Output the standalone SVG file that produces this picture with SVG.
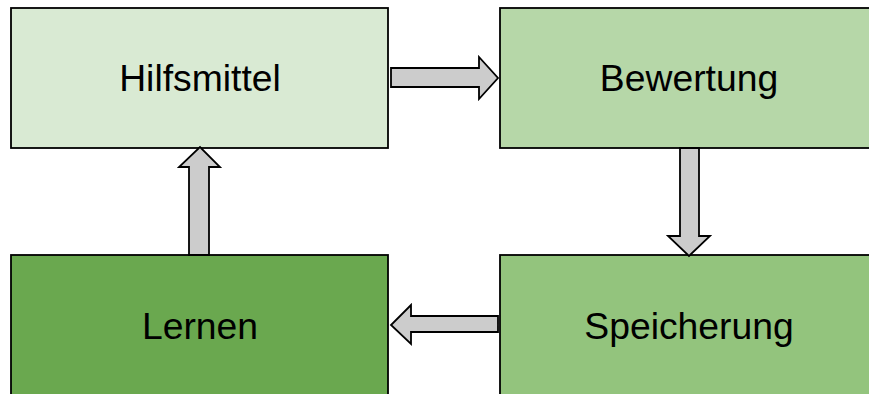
<svg xmlns="http://www.w3.org/2000/svg" width="869" height="394" viewBox="0 0 869 394">
  <style>
    .box { stroke: #000; stroke-width: 1.8; }
    .label { font-family: "Liberation Sans", Arial, sans-serif; font-size: 37.3px; fill: #000; text-anchor: middle; dominant-baseline: central; }
    .arrow { fill: #cccccc; stroke: #000; stroke-width: 1.8; stroke-linejoin: miter; }
  </style>
  <rect width="869" height="394" fill="#ffffff"/>

  <g id="hilfsmittel">
    <rect class="box" x="11" y="8" width="377" height="140" fill="#d9ead3"/>
    <text class="label" x="200" y="78">Hilfsmittel</text>
  </g>
  <g id="bewertung">
    <rect class="box" x="500" y="8" width="378" height="140" fill="#b6d7a8"/>
    <text class="label" x="689" y="78">Bewertung</text>
  </g>
  <g id="speicherung">
    <rect class="box" x="500" y="255" width="378" height="145" fill="#93c47d"/>
    <text class="label" x="689" y="326">Speicherung</text>
  </g>
  <g id="lernen">
    <rect class="box" x="11" y="255" width="377" height="145" fill="#6aa84f"/>
    <text class="label" x="200" y="326">Lernen</text>
  </g>

  <g id="connectors">
    <!-- Hilfsmittel to Bewertung -->
    <polygon class="arrow" points="391,68 479,68 479,57 498,78 479,99 479,87 391,87"/>
    <!-- Bewertung to Speicherung -->
    <polygon class="arrow" points="680,148 699,148 699,236 710,236 689,256 668,236 680,236"/>
    <!-- Speicherung to Lernen -->
    <polygon class="arrow" points="498,316 498,332 411,332 411,344 391,325 411,305 411,316"/>
    <!-- Lernen to Hilfsmittel -->
    <polygon class="arrow" points="189,255 209,255 209,167 220,167 200,147 179,167 189,167"/>
  </g>
</svg>
